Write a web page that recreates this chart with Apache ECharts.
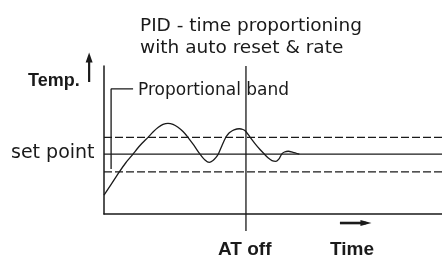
<!DOCTYPE html>
<html><head><meta charset="utf-8">
<script src="https://cdn.jsdelivr.net/npm/echarts@6/dist/echarts.min.js"></script>
<style>html,body{margin:0;padding:0;background:#fff}#c{width:442px;height:258px}</style>
</head><body><div id="c"></div>
<script>
// Data units: time 0..100 (x), temperature 0..100 (y)
const titleLines = ['PID - time proportioning', 'with auto reset & rate'];
const yName = 'Temp.';
const xName = 'Time';
const setPointLabel = 'set point';
const bandLabel = 'Proportional band';
const atOffLabel = 'AT off';
const setPoint = 40.5;
const bandUpper = 51.8;
const bandLower = 28.4;
const atOffTime = 42;
const response = [
  [0,12.8],[2.07,19.9],[4.44,28.2],[6.51,34.8],[8.58,40.5],[10.65,46.3],[13.02,51.8],
  [14.5,55.4],[15.98,58.4],[17.46,60.5],[18.93,61.3],[20.41,60.6],[21.89,58.6],[23.37,55.7],
  [24.85,51.8],[26.63,46.3],[28.4,40.5],[29.88,36.5],[31.15,34.9],[32.25,36.1],[33.14,38.2],
  [33.82,40.5],[34.91,46.3],[35.5,49.3],[36.09,52.0],[36.69,53.9],[37.28,55.2],[38.46,56.8],
  [40.03,57.6],[41.12,57.1],[41.92,55.9],[43.2,52.0],[44.67,47.6],[46.15,43.6],[47.43,40.5],
  [48.52,38.0],[49.7,36.1],[50.89,35.6],[51.78,37.2],[52.57,40.5],[53.4,41.9],[54.53,42.4],
  [55.92,41.7],[57.78,40.5]
];
const bandBracket = [[8.6,84.5],[2.1,84.5],[2.1,30.4]];
const tempArrow = [[-4.4,89.2],[-4.4,105.7]];
const timeArrow = [[69.8,-6.1],[77.5,-6.1]];
const atOffSpan = [-11.5, 100];

const ink = '#1a1a1a';
const chart = echarts.init(document.getElementById('c'), null, {renderer:'canvas'});
function seg(data, extra){
  return Object.assign({type:'line', data:data, symbol:'none', silent:true, clip:false, animation:false,
    lineStyle:{color:ink, width:1.3}}, extra||{});
}
const reg = '"DejaVu Sans", sans-serif';
const bold = 'bold 19px "Liberation Sans", Arial, sans-serif';
chart.setOption({
  backgroundColor:'#fff',
  animation:false,
  grid:{left:104, right:0, top:66, bottom:44},
  xAxis:{type:'value', min:0, max:100, axisLine:{show:true, onZero:false, lineStyle:{color:ink,width:1.5}},
    axisTick:{show:false}, axisLabel:{show:false}, splitLine:{show:false}},
  yAxis:{type:'value', min:0, max:100, axisLine:{show:true, onZero:false, lineStyle:{color:ink,width:1.5}},
    axisTick:{show:false}, axisLabel:{show:false}, splitLine:{show:false}},
  series:[
    seg([[0,setPoint],[100,setPoint]]),
    seg([[0,bandUpper],[100,bandUpper]], {lineStyle:{color:ink,width:1.3,type:[8,3]}}),
    seg([[0,bandLower],[100,bandLower]], {lineStyle:{color:ink,width:1.3,type:[8,3]}}),
    seg([[atOffTime,atOffSpan[0]],[atOffTime,atOffSpan[1]]]),
    seg(bandBracket),
    seg(response, {smooth:0.2, lineStyle:{color:ink,width:1.3}}),
    seg([{value:tempArrow[1], symbol:'triangle', symbolSize:[7,10], itemStyle:{color:ink}}]),
    seg([timeArrow[0], {value:timeArrow[1], symbol:'triangle', symbolSize:[6,11], symbolRotate:-90, itemStyle:{color:ink}}],
      {lineStyle:{color:ink,width:2.6}})
  ],
  graphic:[
    {id:'title', type:'text', left:140, top:15, style:{text:titleLines.join('\n'), font:'18.5px '+reg, lineHeight:22, fill:ink}},
    {id:'yname', type:'text', left:28, top:72, style:{text:yName, font:'bold 18px "Liberation Sans", Arial, sans-serif', fill:ink}},
    {id:'band', type:'text', left:138, top:82, style:{text:bandLabel, font:'17px '+reg, fill:ink}},
    {id:'sp', type:'text', left:11, top:144, style:{text:setPointLabel, font:'19px '+reg, fill:ink}},
    {id:'at', type:'text', left:218, top:240, style:{text:atOffLabel, font:bold, fill:ink}},
    {id:'xname', type:'text', left:330, top:240, style:{text:xName, font:bold, fill:ink}}
  ]
});
// Temperature arrow shaft, placed through the chart's own scales
const p0 = chart.convertToPixel({gridIndex:0}, tempArrow[0]);
const p1 = chart.convertToPixel({gridIndex:0}, tempArrow[1]);
chart.setOption({graphic:[{id:'tempShaft', type:'line', silent:true,
  shape:{x1:p0[0], y1:p0[1], x2:p1[0], y2:p1[1]}, style:{stroke:ink, lineWidth:2.2}}]});
</script></body></html>
